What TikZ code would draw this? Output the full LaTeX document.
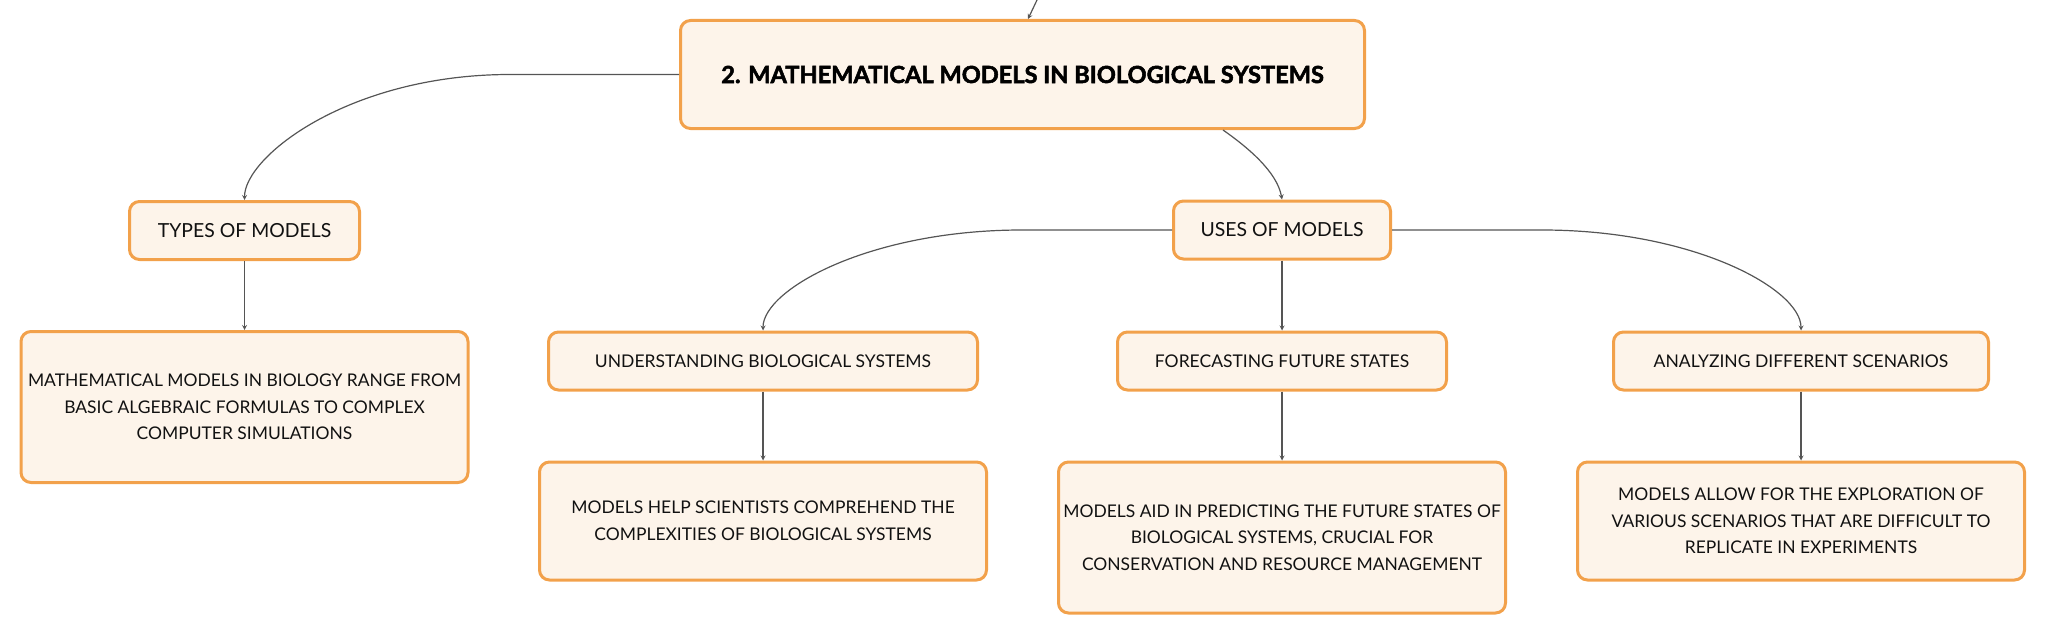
\documentclass[tikz,border=0pt]{standalone}
\usepackage{fontspec}
\setmainfont{Lato}
\newfontfamily\heavyfont{Lato}[BoldFeatures={FakeBold=2.2}]
\usepackage{tikz}
\usetikzlibrary{positioning}
\usetikzlibrary{shapes.geometric, arrows}
\definecolor{boxline}{HTML}{F2A14B}
\definecolor{boxfill}{HTML}{FDF4EA}
\definecolor{linegray}{HTML}{555555}
\definecolor{inkblack}{HTML}{111111}
\tikzstyle{arrow} = [line width=1.2pt,->,>=stealth,draw=linegray]
\tikzstyle{branch} = [arrow,out looseness=1.4,in looseness=0.38]
\tikzstyle{mapbox} = [draw=boxline,fill=boxfill,line width=3pt,rounded corners=10pt,align=center,text=inkblack,inner sep=0pt]
\tikzstyle{titlebox} = [mapbox,minimum width=684pt,minimum height=108pt,font=\fontsize{23.6}{30}\heavyfont\bfseries,text=black]
\tikzstyle{labelbox} = [mapbox,minimum height=58pt,font=\fontsize{19.4}{24}\selectfont]
\tikzstyle{sublabelbox} = [mapbox,minimum height=58pt,font=\fontsize{17.5}{22}\selectfont]
\tikzstyle{textbox} = [mapbox,minimum width=447pt,font=\fontsize{17.45}{26.7}\selectfont]

\begin{document}
\begin{tikzpicture}[x=1pt,y=1pt]
				\useasboundingbox (0,0) rectangle (2046,-634);
				%Nodes
				\node [titlebox] (title) at (1022.5,-74.5) {2. MATHEMATICAL MODELS IN BIOLOGICAL SYSTEMS};
				\node [labelbox,minimum width=230pt] (types) at (244.5,-230.5) {TYPES OF MODELS};
				\node [textbox,minimum height=151pt,below=69pt of types] (typestext) {MATHEMATICAL MODELS IN BIOLOGY RANGE FROM\\BASIC ALGEBRAIC FORMULAS TO COMPLEX\\COMPUTER SIMULATIONS};
				
				\node [labelbox,minimum width=217pt] (uses) at (1282,-230) {USES OF MODELS};
				\node [sublabelbox,minimum width=329pt,below=70pt of uses] (forecast) {FORECASTING FUTURE STATES};
				\node [sublabelbox,minimum width=429pt,left=137pt of forecast] (understand) {UNDERSTANDING BIOLOGICAL SYSTEMS};
				\node [sublabelbox,minimum width=375pt,right=164pt of forecast] (analyze) {ANALYZING DIFFERENT SCENARIOS};
				
				\node [textbox,minimum height=118pt,below=69pt of understand] (understandtext) {MODELS HELP SCIENTISTS COMPREHEND THE\\COMPLEXITIES OF BIOLOGICAL SYSTEMS};
				\node [textbox,minimum height=151pt,below=69pt of forecast] (forecasttext) {MODELS AID IN PREDICTING THE FUTURE STATES OF\\BIOLOGICAL SYSTEMS, CRUCIAL FOR\\CONSERVATION AND RESOURCE MANAGEMENT};
				\node [textbox,minimum height=118pt,below=69pt of analyze] (analyzetext) {MODELS ALLOW FOR THE EXPLORATION OF\\VARIOUS SCENARIOS THAT ARE DIFFICULT TO\\REPLICATE IN EXPERIMENTS};
				
				%Lines
				\coordinate (incoming) at (1037,0);
				\draw[arrow] (incoming) -- ([xshift=5.5pt]title.north);
				\draw[branch] (title.west) -- ++(-169,0) to[out=180,in=90] (types.north);
				\draw[arrow] ([xshift=200.5pt]title.south) to[out=-35,in=100,looseness=0.8] (uses.north);
				\draw[arrow] (types) -- (typestext);
				
				\draw[branch] (uses.west) -- ++(-150,0) to[out=180,in=90] (understand.north);
				\draw[arrow] (uses) -- (forecast);
				\draw[branch] (uses.east) -- ++(150,0) to[out=0,in=90] (analyze.north);
				
				\draw[arrow] (understand) -- (understandtext);
				\draw[arrow] (forecast) -- (forecasttext);
				\draw[arrow] (analyze) -- (analyzetext);
			\end{tikzpicture}
\end{document}
